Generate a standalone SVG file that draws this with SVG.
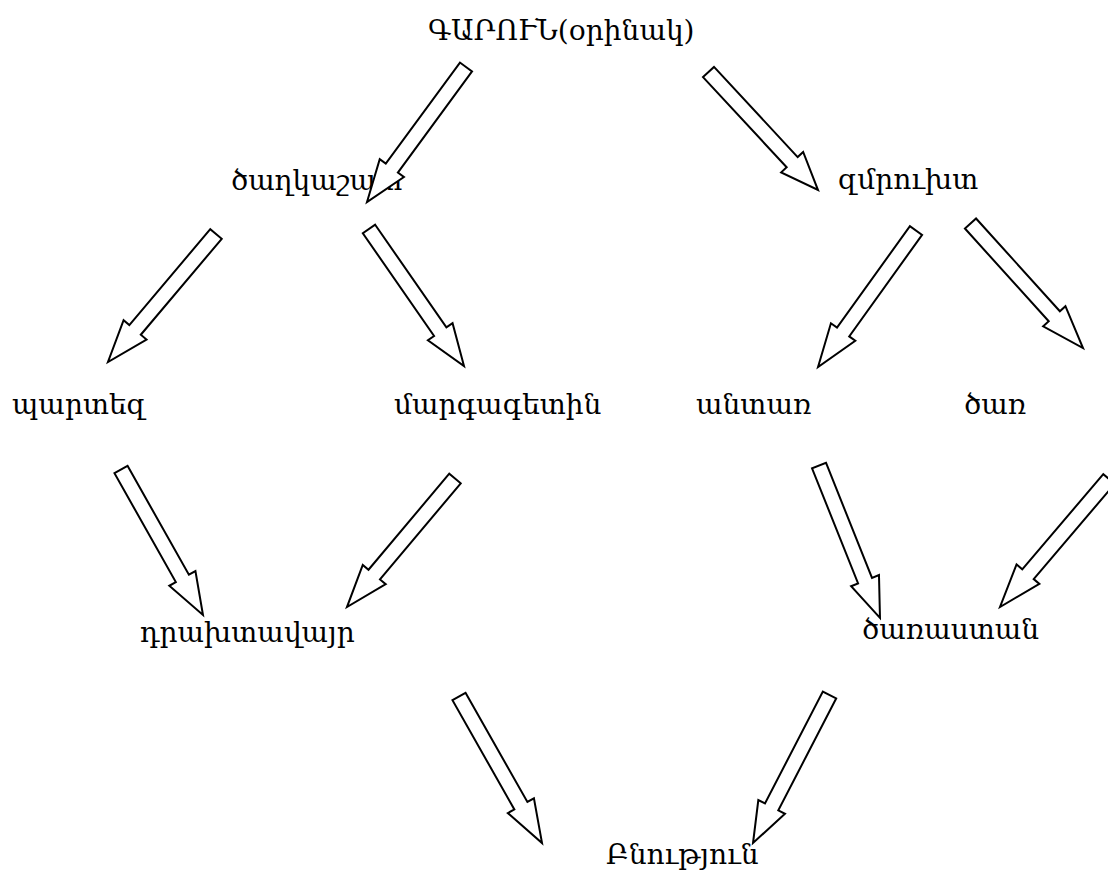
<svg xmlns="http://www.w3.org/2000/svg" width="1108" height="875" viewBox="0 0 1108 875">
<style>
text{font-family:"DejaVu Serif",serif;font-size:28px;fill:#000}
.arrow{fill:#fff;stroke:#000;stroke-width:2;stroke-linejoin:miter}
</style>
<rect width="1108" height="875" fill="#fff"/>
<g id="nodes">
<g id="n-garun"><text x="428" y="40">ԳԱՐՈՒՆ(օրինակ)</text></g>
<g id="n-tsaghkashat"><text x="231" y="190">ծաղկաշատ</text></g>
<g id="n-zmrukht"><text x="838" y="189">զմրուխտ</text></g>
<g id="n-partez"><text x="12" y="414">պարտեզ</text></g>
<g id="n-margagetin"><text x="394" y="414">մարգագետին</text></g>
<g id="n-antar"><text x="696" y="414">անտառ</text></g>
<g id="n-tsar"><text x="964" y="414">ծառ</text></g>
<g id="n-drakhtavayr"><text x="140" y="642">դրախտավայր</text></g>
<g id="n-tsarastan"><text x="862" y="639">ծառաստան</text></g>
<g id="n-bnutyun"><text x="606" y="864">Բնություն</text></g>
</g>
<g id="connectors">
<polygon class="arrow" transform="translate(466,67) rotate(126.26)" points="0,-7.5 125.4,-7.5 125.4,-15 167.4,0 125.4,15 125.4,7.5 0,7.5"/>
<polygon class="arrow" transform="translate(708.5,72) rotate(47.14)" points="0,-7.5 123,-7.5 123,-15 161,0 123,15 123,7.5 0,7.5"/>
<polygon class="arrow" transform="translate(216,234) rotate(130.16)" points="0,-7.5 125.5,-7.5 125.5,-15 167.5,0 125.5,15 125.5,7.5 0,7.5"/>
<polygon class="arrow" transform="translate(369,229) rotate(55.26)" points="0,-7.5 125,-7.5 125,-15 166.7,0 125,15 125,7.5 0,7.5"/>
<polygon class="arrow" transform="translate(916,230.5) rotate(125.67)" points="0,-7.5 125,-7.5 125,-15 168,0 125,15 125,7.5 0,7.5"/>
<polygon class="arrow" transform="translate(970.5,223.5) rotate(47.9)" points="0,-7.5 125,-7.5 125,-15 167.8,0 125,15 125,7.5 0,7.5"/>
<polygon class="arrow" transform="translate(121,469.5) rotate(60.6)" points="0,-7.5 125,-7.5 125,-15 167,0 125,15 125,7.5 0,7.5"/>
<polygon class="arrow" transform="translate(455,478.5) rotate(130.05)" points="0,-7.5 125.5,-7.5 125.5,-15 167.9,0 125.5,15 125.5,7.5 0,7.5"/>
<polygon class="arrow" transform="translate(819,465.5) rotate(68.2)" points="0,-7.5 124,-7.5 124,-15 164.2,0 124,15 124,7.5 0,7.5"/>
<polygon class="arrow" transform="translate(1109,479) rotate(130.41)" points="0,-7.5 125,-7.5 125,-15 168.1,0 125,15 125,7.5 0,7.5"/>
<polygon class="arrow" transform="translate(459,696.5) rotate(60.46)" points="0,-7.5 125.5,-7.5 125.5,-15 168.4,0 125.5,15 125.5,7.5 0,7.5"/>
<polygon class="arrow" transform="translate(829.5,695) rotate(117.33)" points="0,-7.5 126,-7.5 126,-15 166.6,0 126,15 126,7.5 0,7.5"/>
</g>
</svg>
